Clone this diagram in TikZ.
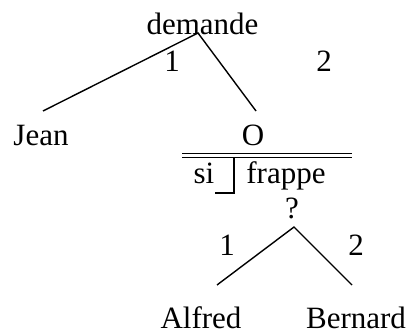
\documentclass[tikz,border=0pt]{standalone}
\usepackage{fontspec}
\setmainfont{Liberation Serif}
\usetikzlibrary{positioning}

\begin{document}
\begin{tikzpicture}[x=1pt, y=-1pt]
	% Styles
	\tikzstyle{word} = [inner sep=0pt, anchor=base, font=\fontsize{31}{37}\selectfont]
	\tikzstyle{branch} = [line width=1.4pt]
	\tikzstyle{bar} = [double, line width=1.3pt, double distance=2.4pt]

	\useasboundingbox (0,0) rectangle (409,334);

	% Nodes
	\node (demande) [word] at (202.5,35) {demande};
	\node (one) [word] at (172,72) {1};
	\node (two) [word] at (324,72) {2};
	\node (jean) [word] at (41,145) {Jean};
	\node (o) [word] at (253,145) {O};
	\node (si) [word] at (204,183) {si};
	\node (frappe) [word] at (286,183) {frappe};
	\node (quest) [word] at (292,218) {?};
	\node (oneb) [word] at (227,255) {1};
	\node (twob) [word] at (356,255) {2};
	\node (alfred) [word] at (201,328) {Alfred};
	\node (bernard) [word] at (356,328) {Bernard};

	% Branch ends
	\coordinate (top) at (198,33);
	\coordinate (jeanEnd) at (43,111);
	\coordinate (oEnd) at (256,111);
	\coordinate (barL) at (182,155.5);
	\coordinate (barR) at (352,155.5);
	\coordinate (hookTop) at (234,157.5);
	\coordinate (hookBot) at (234,193);
	\coordinate (hookEnd) at (215,193);
	\coordinate (apex) at (294,227);
	\coordinate (alfredEnd) at (217,285);
	\coordinate (bernardEnd) at (352,285);

	% Connections
	\draw [branch] (jeanEnd) -- (top) -- (oEnd);
	\draw [bar] (barL) -- (barR);
	\draw [branch] (hookTop) -- (hookBot) -- (hookEnd);
	\draw [branch] (alfredEnd) -- (apex) -- (bernardEnd);

\end{tikzpicture}
\end{document}
